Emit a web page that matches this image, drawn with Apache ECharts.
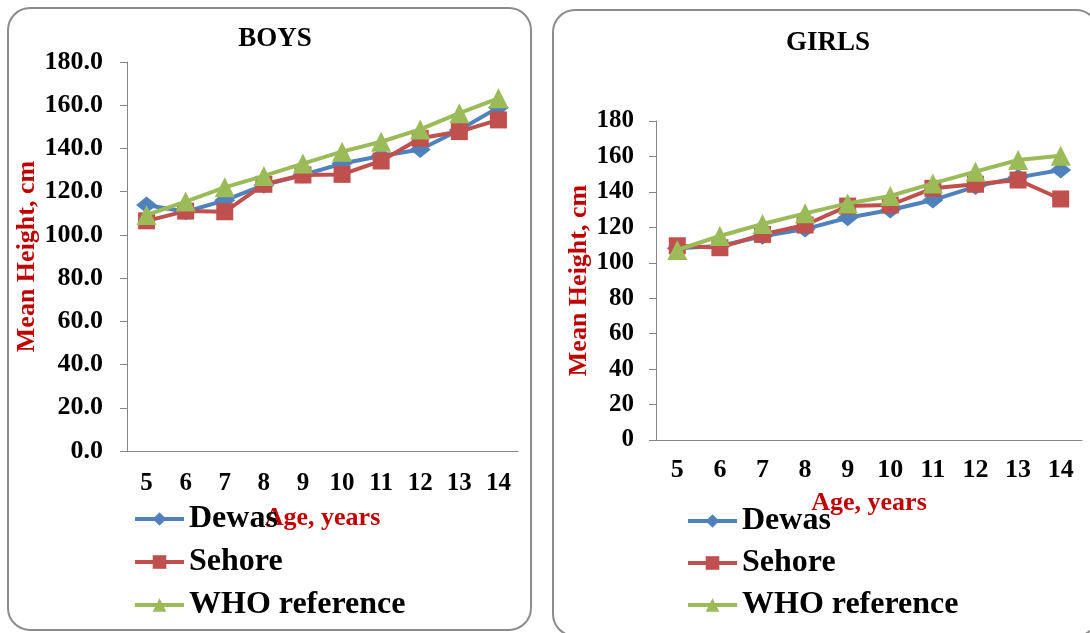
<!DOCTYPE html>
<html>
<head>
<meta charset="utf-8">
<script src="https://cdn.jsdelivr.net/npm/echarts@6/dist/echarts.min.js"></script>
<style>
html,body{margin:0;padding:0;background:#fff;}
#chart{width:1090px;height:633px;}
</style>
</head>
<body>
<div id="chart"></div>
<script>
// ---- data ----
const ages = ['5','6','7','8','9','10','11','12','13','14'];
const seriesNames = ['Dewas','Sehore','WHO reference'];
const boysDewas  = [113.8,110.7,116.0,123.0,127.7,133.0,136.5,139.5,148.5,159.0];
const boysSehore = [106.5,111.0,110.7,123.4,127.7,128.0,134.2,144.7,147.8,153.2];
const boysWHO    = [109.2,115.4,122.0,127.3,133.0,138.5,143.1,148.8,156.3,163.2];
const girlsDewas  = [108.2,109.5,115.0,119.0,125.4,129.8,135.4,143.0,148.2,152.4];
const girlsSehore = [109.6,108.5,116.0,121.3,132.0,132.6,142.0,144.3,146.7,136.0];
const girlsWHO    = [107.2,115.1,121.9,127.9,133.5,137.7,144.8,151.4,158.0,160.4];
const titles = ['BOYS','GIRLS'];
const xName = 'Age, years';
const yName = 'Mean Height, cm';

const colors = ['#4F81BD','#C0504D','#9BBB59'];
const symbols = ['diamond','rect','triangle'];
const symSizes = [[21,17],17,20];
const FONT = '"Liberation Serif", "Times New Roman", serif';
const RED = '#C00000';

function mkSeries(name, idx, data, axisIdx){
  return {
    name: name, type:'line', xAxisIndex: axisIdx, yAxisIndex: axisIdx,
    data: data, symbol: symbols[idx], symbolSize: symSizes[idx],
    lineStyle:{color:colors[idx], width:4},
    itemStyle:{color:colors[idx]},
    z: 2 + idx
  };
}

function xAxisCfg(gi, fs, margin, gap){
  return {
    type:'category', gridIndex: gi, data: ages, boundaryGap:true,
    axisLine:{lineStyle:{color:'#868686', width:1}},
    axisTick:{length:7, lineStyle:{color:'#868686'}},
    axisLabel:{fontFamily:FONT, fontWeight:'bold', fontSize:fs, color:'#000', margin:margin},
    name: xName, nameLocation:'middle', nameGap: gap,
    nameTextStyle:{fontFamily:FONT, fontWeight:'bold', fontSize:26, color:RED},
    splitLine:{show:false}
  };
}
function yAxisCfg(gi, fs, margin, gap, fmt){
  return {
    type:'value', gridIndex: gi, min:0, max:180, interval:20,
    axisLine:{show:true, lineStyle:{color:'#868686', width:1}},
    axisTick:{show:true, length:7, lineStyle:{color:'#868686'}},
    axisLabel:{fontFamily:FONT, fontWeight:'bold', fontSize:fs, color:'#000', margin:margin, formatter: fmt},
    splitLine:{show:false},
    name: yName, nameLocation:'middle', nameGap: gap, nameRotate:90,
    nameTextStyle:{fontFamily:FONT, fontWeight:'bold', fontSize:26, color:RED}
  };
}

const legendCommon = {
  data:seriesNames, orient:'vertical', itemWidth:49, itemHeight:17,
  lineStyle:{width:4},
  textStyle:{fontFamily:FONT, fontWeight:'bold', fontSize:32, color:'#000'}
};

const chart = echarts.init(document.getElementById('chart'), null, {renderer:'canvas'});
const option = {
  backgroundColor:'#fff',
  animation:false,
  title:[
    {text:titles[0], left:270, top:21, textAlign:'center',
     textStyle:{fontFamily:FONT, fontWeight:'bold', fontSize:27, color:'#000'}},
    {text:titles[1], left:823, top:25, textAlign:'center',
     textStyle:{fontFamily:FONT, fontWeight:'bold', fontSize:27, color:'#000'}}
  ],
  graphic:[
    {type:'rect', shape:{x:8, y:8, width:523, height:622, r:22},
     style:{fill:'none', stroke:'#8c8c8c', lineWidth:2}, z:-1, silent:true},
    {type:'rect', shape:{x:553, y:10, width:545, height:626, r:22},
     style:{fill:'none', stroke:'#8c8c8c', lineWidth:2}, z:-1, silent:true}
  ],
  grid:[
    {left:127, top:62, width:391, height:389},
    {left:656, top:121, width:426, height:319}
  ],
  xAxis:[ xAxisCfg(0, 25, 20, 54), xAxisCfg(1, 26, 17, 50) ],
  yAxis:[
    yAxisCfg(0, 26, 24, 84, v => v.toFixed(1)),
    yAxisCfg(1, 25, 22, 64, v => String(v))
  ],
  legend:[
    Object.assign({}, legendCommon, {left:128, top:498, itemGap:11}),
    Object.assign({}, legendCommon, {left:681, top:500, itemGap:10})
  ],
  series:[
    mkSeries(seriesNames[0],0,boysDewas,0),
    mkSeries(seriesNames[1],1,boysSehore,0),
    mkSeries(seriesNames[2],2,boysWHO,0),
    mkSeries(seriesNames[0],0,girlsDewas,1),
    mkSeries(seriesNames[1],1,girlsSehore,1),
    mkSeries(seriesNames[2],2,girlsWHO,1)
  ]
};
chart.setOption(option);
</script>
</body>
</html>
